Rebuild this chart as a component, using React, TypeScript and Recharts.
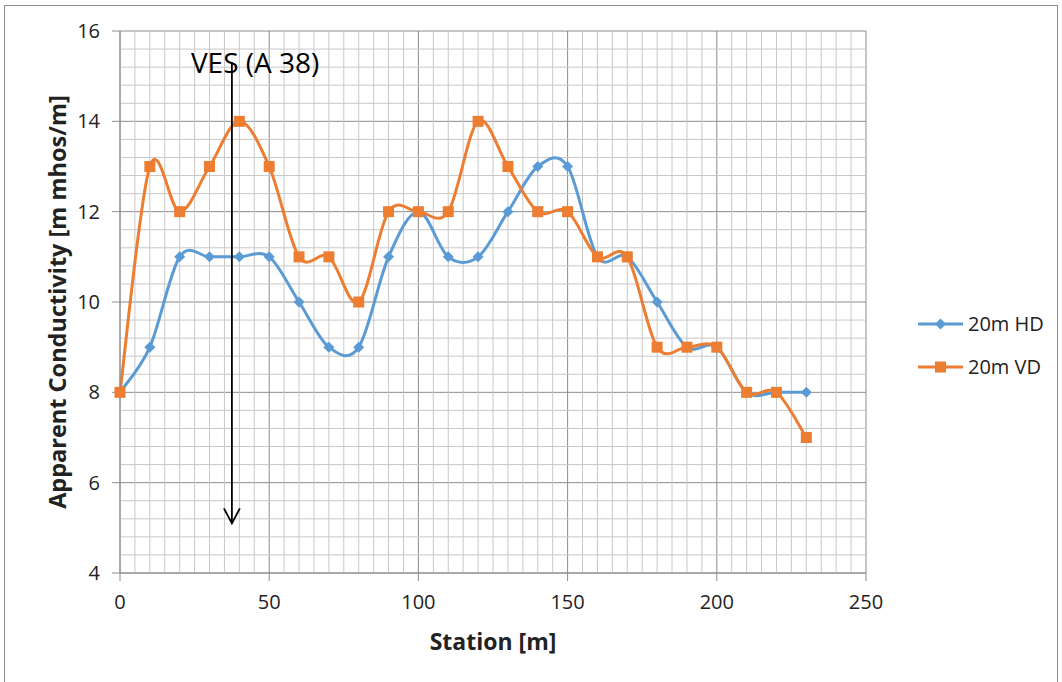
import React from 'react';
import { LineChart, Line, XAxis, YAxis, CartesianGrid, ReferenceLine } from 'recharts';

// station positions [m]
const stations = [0, 10, 20, 30, 40, 50, 60, 70, 80, 90, 100, 110, 120, 130, 140, 150, 160, 170, 180, 190, 200, 210, 220, 230];
// apparent conductivity, 20m horizontal dipole
const hd20 = [8, 9, 11, 11, 11, 11, 10, 9, 9, 11, 12, 11, 11, 12, 13, 13, 11, 11, 10, 9, 9, 8, 8, 8];
// apparent conductivity, 20m vertical dipole
const vd20 = [8, 13, 12, 13, 14, 13, 11, 11, 10, 12, 12, 12, 14, 13, 12, 12, 11, 11, 9, 9, 9, 8, 8, 7];

const xTicks = [0, 50, 100, 150, 200, 250];
const yTicks = [4, 6, 8, 10, 12, 14, 16];
const vesStation = 37.5;
const vesTop = 15.3;
const vesBottom = 5.1;

const BLUE = '#5b9bd5';
const ORANGE = '#ed7d31';
const FONT = '"Open Sans", sans-serif';

const data = stations.map((s, i) => ({ station: s, hd: hd20[i], vd: vd20[i] }));

// minor grid: every 5 m across, every 0.4 up, skipping the major lines
const minorX: number[] = [];
for (let i = 1; i < 50; i++) if (i % 10 !== 0) minorX.push(i * 5);
const minorY: number[] = [];
for (let i = 1; i < 30; i++) if (i % 5 !== 0) minorY.push(4 + (i * 4) / 10);

// spreadsheet-style smoothed line (cardinal bezier, 1/6 tangents)
const smoothCurve = (context: any) => {
  let pts: number[][] = [];
  return {
    areaStart() {},
    areaEnd() {},
    lineStart() {
      pts = [];
    },
    point(x: number, y: number) {
      pts.push([+x, +y]);
    },
    lineEnd() {
      if (!pts.length) return;
      context.moveTo(pts[0][0], pts[0][1]);
      for (let i = 0; i < pts.length - 1; i++) {
        const p0 = pts[i - 1] || pts[i];
        const p1 = pts[i];
        const p2 = pts[i + 1];
        const p3 = pts[i + 2] || p2;
        context.bezierCurveTo(
          p1[0] + (p2[0] - p0[0]) / 6,
          p1[1] + (p2[1] - p0[1]) / 6,
          p2[0] - (p3[0] - p1[0]) / 6,
          p2[1] - (p3[1] - p1[1]) / 6,
          p2[0],
          p2[1]
        );
      }
    },
  };
};

const Diamond = (props: any) => {
  const { cx, cy, index } = props;
  if (cx == null || cy == null) return <g key={`d${index}`} />;
  return <path key={`d${index}`} d={`M${cx},${cy - 5.5}L${cx + 5.5},${cy}L${cx},${cy + 5.5}L${cx - 5.5},${cy}Z`} fill={BLUE} />;
};

const Square = (props: any) => {
  const { cx, cy, index } = props;
  if (cx == null || cy == null) return <g key={`s${index}`} />;
  return <rect key={`s${index}`} x={cx - 5.5} y={cy - 5.5} width={11} height={11} fill={ORANGE} />;
};

// arrow marking the VES sounding
const VesArrow = (props: any) => {
  const { x1, y1, x2, y2 } = props;
  if (x1 == null) return <g />;
  const top = Math.min(y1, y2);
  const tip = Math.max(y1, y2);
  return (
    <g>
      <line x1={x1} y1={top} x2={x2} y2={tip} stroke="#000" strokeWidth={1.8} />
      <path d={`M${x1 - 8},${tip - 15}L${x1},${tip}L${x1 + 8},${tip - 15}`} fill="none" stroke="#000" strokeWidth={1.8} />
      <text x={x1 - 41} y={top + 10} fontSize={28} fontFamily={FONT} fill="#000">
        VES (A 38)
      </text>
    </g>
  );
};

const LegendBox = () => {
  const rows = [
    { name: '20m HD', color: BLUE, square: false },
    { name: '20m VD', color: ORANGE, square: true },
  ];
  return (
    <svg width={140} height={80} style={{ position: 'absolute', left: 910, top: 304 }}>
      {rows.map((r, i) => {
        const y = 20 + i * 43;
        return (
          <g key={r.name}>
            <line x1={8} y1={y} x2={53} y2={y} stroke={r.color} strokeWidth={3} />
            {r.square ? (
              <rect x={25} y={y - 5.5} width={11} height={11} fill={r.color} />
            ) : (
              <path d={`M30.5,${y - 5.5}L36,${y}L30.5,${y + 5.5}L25,${y}Z`} fill={r.color} />
            )}
            <text x={58} y={y + 7} fontSize={20} fontFamily={FONT} fill="#222">
              {r.name}
            </text>
          </g>
        );
      })}
    </svg>
  );
};

export default function App() {
  return (
    <div style={{ position: 'absolute', left: 0, top: 0, width: 1062, height: 682, background: '#fff' }}>
      <div style={{ position: 'absolute', left: 4, top: 5, width: 1052, height: 700, borderTop: '1px solid #8c8c8c', borderLeft: '1px solid #8c8c8c', borderRight: '1px solid #8c8c8c' }} />
      <LineChart width={1062} height={682} data={data} margin={{ top: 31, right: 196, bottom: 69, left: 60 }}>
        <CartesianGrid stroke="#8c8c8c" strokeWidth={1} />
        {minorX.map((v) => (
          <ReferenceLine key={`mx${v}`} x={v} stroke="#c8c8c8" strokeWidth={1} />
        ))}
        {minorY.map((v) => (
          <ReferenceLine key={`my${v}`} y={v} stroke="#c8c8c8" strokeWidth={1} />
        ))}
        <XAxis
          dataKey="station"
          type="number"
          domain={[0, 250]}
          ticks={xTicks}
          height={40}
          tickSize={8}
          tickMargin={14}
          stroke="#8c8c8c"
          tick={{ fill: '#222', fontSize: 20, fontFamily: FONT }}
          label={(p: any) => {
            const vb = p.viewBox || {};
            return (
              <text x={vb.x + vb.width / 2} y={vb.y + 77} textAnchor="middle" fontSize={23} fontWeight="bold" fontFamily={FONT} fill="#222">
                Station [m]
              </text>
            );
          }}
        />
        <YAxis
          type="number"
          domain={[4, 16]}
          ticks={yTicks}
          width={60}
          tickSize={8}
          tickMargin={12}
          stroke="#8c8c8c"
          tick={{ fill: '#222', fontSize: 20, fontFamily: FONT }}
          label={(p: any) => {
            const vb = p.viewBox || {};
            const cx = vb.x - 3;
            const cy = vb.y + vb.height / 2;
            return (
              <text x={cx} y={cy} transform={`rotate(-90, ${cx}, ${cy})`} textAnchor="middle" dominantBaseline="central" fontSize={23.5} fontWeight="bold" fontFamily={FONT} fill="#222">
                Apparent Conductivity [m mhos/m]
              </text>
            );
          }}
        />
        <Line type={smoothCurve as any} dataKey="hd" name="20m HD" stroke={BLUE} strokeWidth={3} dot={Diamond} activeDot={false} isAnimationActive={false} />
        <Line type={smoothCurve as any} dataKey="vd" name="20m VD" stroke={ORANGE} strokeWidth={3} dot={Square} activeDot={false} isAnimationActive={false} />
        <ReferenceLine
          segment={[
            { x: vesStation, y: vesTop },
            { x: vesStation, y: vesBottom },
          ]}
          shape={VesArrow}
        />
      </LineChart>
      <LegendBox />
    </div>
  );
}
